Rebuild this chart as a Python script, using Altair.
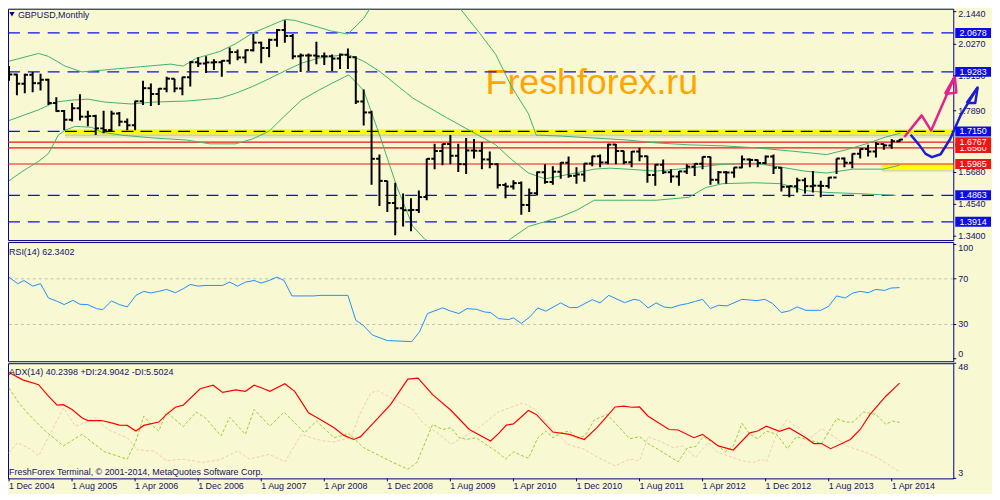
import altair as alt
import pandas as pd

FONT = "Liberation Sans"
BG = "#F8F8D2"
NAVY = "#000080"
TXT = "#141466"
BLUE = "#0C0CEB"
RED = "#F01414"
GREEN = "#3CB371"

# ---------------- data ----------------
opens = [1.9240, 1.9190, 1.8860, 1.9180, 1.8880, 1.9000, 1.8170, 1.7880, 1.7570, 1.7980,
         1.7680, 1.7700, 1.7260, 1.7200, 1.7790, 1.7500, 1.7370, 1.8230, 1.8700, 1.8490,
         1.8680, 1.9040, 1.8690, 1.9090, 1.9630, 1.9580, 1.9620, 1.9630, 1.9680, 1.9990,
         1.9800, 2.0060, 2.0330, 2.0140, 2.0430, 2.0780, 2.0570, 1.9840, 1.9870, 1.9870,
         1.9840, 1.9840, 1.9760, 1.9900, 1.9810, 1.8220, 1.7830, 1.6170, 1.5380, 1.4590,
         1.4400, 1.4330, 1.4340, 1.4800, 1.6170, 1.6450, 1.6700, 1.6280, 1.5980, 1.6470,
         1.6460, 1.6150, 1.5980, 1.5230, 1.5180, 1.5300, 1.4520, 1.4940, 1.5690, 1.5340,
         1.5710, 1.6030, 1.5560, 1.5610, 1.6000, 1.6260, 1.6040, 1.6680, 1.6450, 1.6050,
         1.6430, 1.6260, 1.5590, 1.5960, 1.5690, 1.5540, 1.5720, 1.5890, 1.5990, 1.6240,
         1.5420, 1.5690, 1.5680, 1.5860, 1.6150, 1.6130, 1.6020, 1.6250, 1.5850, 1.5170,
         1.5190, 1.5400, 1.5190, 1.5210, 1.5200, 1.5500, 1.6180, 1.6030, 1.6350, 1.6520,
         1.6430, 1.6700, 1.6650, 1.6800]
highs = [1.9491, 1.9212, 1.9212, 1.9282, 1.9212, 1.9038, 1.8377, 1.7920, 1.8168, 1.8481,
         1.7889, 1.7750, 1.7889, 1.7889, 1.7850, 1.7611, 1.8250, 1.8969, 1.8864, 1.8700,
         1.9108, 1.9038, 1.9110, 1.9665, 1.9804, 1.9839, 1.9734, 1.9700, 2.0152, 2.0083,
         2.0080, 2.0639, 2.0360, 2.0465, 2.0814, 2.1127, 2.0639, 1.9943, 1.9943, 2.0361,
         1.9978, 1.9909, 1.9943, 2.0117, 1.9839, 1.8655, 1.7889, 1.6323, 1.5383, 1.5314,
         1.4931, 1.4757, 1.5035, 1.6184, 1.6706, 1.6706, 1.7019, 1.6706, 1.6915, 1.6880,
         1.6776, 1.6428, 1.6010, 1.5314, 1.5400, 1.5360, 1.5105, 1.5720, 1.5975, 1.5905,
         1.6045, 1.6253, 1.5871, 1.6010, 1.6280, 1.6323, 1.6706, 1.6700, 1.6460, 1.6450,
         1.6567, 1.6280, 1.5975, 1.6149, 1.5801, 1.5731, 1.5975, 1.6010, 1.6253, 1.6253,
         1.5731, 1.5731, 1.5871, 1.6288, 1.6184, 1.6149, 1.6288, 1.6323, 1.5871, 1.5209,
         1.5488, 1.5488, 1.5731, 1.5383, 1.5522, 1.6184, 1.6219, 1.6358, 1.6532, 1.6671,
         1.6776, 1.6706, 1.6880, 1.6880]
lows = [1.8969, 1.8446, 1.8516, 1.8551, 1.8620, 1.8098, 1.7855, 1.7193, 1.7507, 1.7541,
        1.7333, 1.7019, 1.7089, 1.7159, 1.7333, 1.7193, 1.7193, 1.8098, 1.8064, 1.8098,
        1.8551, 1.8551, 1.8446, 1.8760, 1.9456, 1.9247, 1.9352, 1.9108, 1.9560, 1.9700,
        1.9595, 2.0013, 1.9595, 1.9804, 2.0187, 2.0326, 1.9734, 1.9282, 1.9317, 1.9560,
        1.9526, 1.9317, 1.9386, 1.9386, 1.8133, 1.7367, 1.5244, 1.4478, 1.4269, 1.3434,
        1.3747, 1.3573, 1.4234, 1.4687, 1.5801, 1.5940, 1.5975, 1.5696, 1.5627, 1.6184,
        1.5801, 1.5836, 1.5105, 1.4757, 1.5070, 1.4165, 1.4269, 1.4861, 1.5279, 1.5244,
        1.5453, 1.5488, 1.5279, 1.5348, 1.5905, 1.5871, 1.5975, 1.5975, 1.5975, 1.5871,
        1.6079, 1.5314, 1.5209, 1.5627, 1.5314, 1.5209, 1.5627, 1.5557, 1.5801, 1.5244,
        1.5279, 1.5279, 1.5488, 1.5836, 1.5871, 1.5871, 1.5975, 1.5627, 1.5000, 1.4792,
        1.4966, 1.4931, 1.4966, 1.4792, 1.5105, 1.5627, 1.5871, 1.5836, 1.6184, 1.6253,
        1.6219, 1.6497, 1.6532, 1.6776]
closes = [1.9190, 1.8860, 1.9180, 1.8880, 1.9000, 1.8170, 1.7880, 1.7570, 1.7980, 1.7680,
          1.7700, 1.7260, 1.7200, 1.7790, 1.7500, 1.7370, 1.8230, 1.8700, 1.8490, 1.8680,
          1.9040, 1.8690, 1.9090, 1.9630, 1.9580, 1.9620, 1.9630, 1.9680, 1.9990, 1.9800,
          2.0060, 2.0330, 2.0140, 2.0430, 2.0780, 2.0570, 1.9840, 1.9870, 1.9870, 1.9840,
          1.9840, 1.9760, 1.9900, 1.9810, 1.8220, 1.7830, 1.6170, 1.5380, 1.4590, 1.4400,
          1.4330, 1.4340, 1.4800, 1.6170, 1.6450, 1.6700, 1.6280, 1.5980, 1.6470, 1.6460,
          1.6150, 1.5980, 1.5230, 1.5180, 1.5300, 1.4520, 1.4940, 1.5690, 1.5340, 1.5710,
          1.6030, 1.5560, 1.5610, 1.6000, 1.6260, 1.6040, 1.6680, 1.6450, 1.6050, 1.6430,
          1.6260, 1.5590, 1.5960, 1.5690, 1.5540, 1.5720, 1.5890, 1.5990, 1.6240, 1.5420,
          1.5690, 1.5680, 1.5860, 1.6150, 1.6130, 1.6020, 1.6250, 1.5850, 1.5170, 1.5190,
          1.5400, 1.5190, 1.5210, 1.5200, 1.5500, 1.6180, 1.6030, 1.6350, 1.6520, 1.6430,
          1.6700, 1.6650, 1.6800, 1.6860]
months = list(range(len(closes)))  # 0 = Dec 2004 ... 113 = May 2014

# Bollinger bands (month index, price)
bb_up1_i = [0, 3.75, 5, 7.1, 9.25, 12.1, 16.25, 20.5, 22.1, 23.75, 26.75, 28.75, 30.9, 33, 35,
            36.25, 39.25, 40.9, 43, 45, 45.9]
bb_up1_p = [1.9665, 1.9943, 1.9838, 1.9491, 1.9282, 1.9352, 1.9456, 1.9560, 1.9491, 1.9770,
            2.0013, 2.0291, 2.0674, 2.0918, 2.1162, 2.1127, 2.0883, 2.0744, 2.0639, 2.1196, 2.1600]
bb_up2_i = [57.1, 59.6, 61.75, 63.75, 65.9, 66.9, 70, 74.25, 78.4, 82.1, 86.25, 90.5, 94.6,
            98.75, 103.75, 106.25, 108.75, 111.25, 113.1]
bb_up2_p = [2.1600, 2.0709, 1.9909, 1.8760, 1.7785, 1.7019, 1.6985, 1.6915, 1.6845, 1.6741,
            1.6671, 1.6636, 1.6567, 1.6462, 1.6323, 1.6497, 1.6706, 1.6950, 1.7089]
bb_mid_i = [0, 3.75, 5.9, 8, 10, 12.1, 15.5, 18.4, 22.5, 26.75, 28.75, 30.9, 33, 35, 37.1,
            39.25, 40.9, 43, 45, 47.1, 51.25, 55.5, 58.4, 61.75, 63.75, 65.9, 68, 70, 74.25,
            76.25, 78.4, 82.1, 86.25, 90.5, 94.6, 98, 100.9, 103.75, 107.1, 110.9, 113]
bb_mid_p = [1.7541, 1.7924, 1.8203, 1.8272, 1.8307, 1.8203, 1.8133, 1.8203, 1.8238, 1.8342,
            1.8516, 1.8760, 1.9038, 1.9317, 1.9595, 1.9770, 1.9839, 1.9909, 1.9665, 1.9282,
            1.8342, 1.7646, 1.7193, 1.6671, 1.6149, 1.5662, 1.5453, 1.5557, 1.5801, 1.5836,
            1.5801, 1.5731, 1.5836, 1.5975, 1.6010, 1.5871, 1.5731, 1.5662, 1.5801, 1.5801, 1.5940]
bb_lo1_i = [0, 1.75, 3.75, 5, 6.25, 7.1, 8.4, 10.5, 11.75, 14.25, 18.4, 22.5, 25.5, 28.75,
            30.9, 33, 35, 37.1, 39.25, 40.9, 43.1, 45, 47.1, 49.25, 51.25, 52.75, 53.3]
bb_lo1_p = [1.5383, 1.5731, 1.6079, 1.6358, 1.7019, 1.7193, 1.7333, 1.7298, 1.7124, 1.7019,
            1.6915, 1.6845, 1.6706, 1.6706, 1.6880, 1.7159, 1.7716, 1.8272, 1.8620, 1.8864,
            1.9177, 1.8620, 1.6950, 1.5140, 1.3747, 1.3295, 1.3200]
bb_lo2_i = [63.2, 63.6, 65.9, 68, 70, 72.1, 74.25, 82.1, 86.25, 88.4, 90.5, 94.6, 98, 100.9,
            103.75, 107.1, 112.5]
bb_lo2_p = [1.3200, 1.3295, 1.3747, 1.3921, 1.4095, 1.4339, 1.4687, 1.4687, 1.4792, 1.5140,
            1.5279, 1.5314, 1.5279, 1.5035, 1.4966, 1.4931, 1.4861]

# RSI(14)
rsi_i = [0, 1.1, 1.9, 3, 4, 5, 6.1, 7, 8.1, 9, 10, 11.1, 11.9, 13, 14, 15, 16.1, 17.1, 18, 19,
         20, 21.1, 22.1, 23, 24, 25, 27.1, 28, 29, 30, 31.1, 32, 33, 34, 34.9, 35.9, 38.6, 39.6,
         43, 44, 45, 46.1, 48, 51.1, 52.1, 53.1, 55, 56.1, 57.1, 58.1, 59.3, 60.3, 61.1, 62.1,
         63.4, 64, 65, 66.1, 67.1, 68.1, 70, 71.1, 72.1, 74, 75, 76.1, 78.1, 79.3, 80, 81.1,
         82.1, 83.1, 84, 85, 86.1, 87.1, 88, 89, 90, 91.1, 93, 94.9, 95.9, 96.9, 98, 99, 100,
         101.1, 103, 104, 105, 106.1, 107.1, 108, 109, 110, 111.1, 111.9, 113]
rsi_v = [71.5, 65.7, 68.5, 63.6, 65.7, 53.2, 50.3, 47.4, 51.1, 47.7, 47.4, 43.9, 43.0, 50.6,
         47.4, 45.4, 55.5, 59.0, 57.6, 59.0, 60.7, 57.8, 61.3, 65.0, 63.6, 64.2, 64.2, 67.1,
         63.6, 67.1, 68.5, 66.3, 68.5, 71.5, 68.5, 55.0, 55.0, 55.5, 55.5, 33.7, 28.9, 20.8,
         15.9, 15.0, 23.7, 39.6, 44.5, 41.6, 39.6, 43.9, 43.3, 41.0, 40.4, 35.2, 34.3, 35.8,
         30.9, 36.7, 44.5, 41.6, 48.9, 44.8, 44.8, 51.7, 48.9, 55.5, 49.1, 52.0, 51.1, 44.5,
         48.9, 45.4, 44.5, 46.8, 48.3, 50.3, 52.0, 43.9, 46.8, 46.3, 52.0, 50.9, 52.0, 48.3,
         40.4, 41.9, 45.4, 42.4, 42.4, 45.9, 55.0, 53.2, 57.6, 59.0, 57.8, 60.7, 59.8, 61.9, 62.3]
rsi_levels = [70, 30]

# ADX(14), +DI, -DI
adx_i = [0, 1.75, 3.75, 5, 6.1, 6.9, 8, 9.25, 10, 11.75, 13, 14, 15, 16.1, 17.1, 19, 20, 21.1,
         22.1, 24.25, 25.9, 27.1, 28.75, 30, 31.1, 32.1, 33.1, 35, 36.25, 38, 39.6, 41.25, 42.5,
         43.75, 44.6, 46.25, 48.4, 50.6, 51.9, 53.75, 56.1, 58.4, 61.1, 62.1, 63.1, 64, 65.9,
         66.9, 69, 71.1, 73, 74.6, 76.9, 78, 79, 80, 81.1, 83.75, 84.9, 86.9, 88, 90, 91.9, 94,
         95, 96.1, 97.75, 99, 101.1, 102.1, 103.1, 104.25, 106.75, 108, 109.25, 111.25, 113]
adx_v = [44.4, 41.5, 39.6, 35.1, 31.6, 31.8, 29.9, 26.7, 25.6, 25.6, 24.7, 23.8, 23.7, 21.5,
         23.7, 25.0, 28.0, 30.8, 31.6, 38.0, 39.4, 36.6, 37.6, 37.0, 39.4, 38.3, 37.0, 40.0,
         37.0, 28.6, 25.8, 22.8, 19.8, 18.2, 19.3, 24.7, 31.8, 41.8, 42.2, 35.7, 29.5, 22.1,
         17.6, 20.5, 23.8, 24.3, 29.5, 28.0, 21.1, 20.2, 18.2, 22.8, 30.9, 31.2, 30.8, 30.9,
         27.3, 22.1, 21.9, 18.9, 20.2, 15.7, 14.1, 20.8, 21.5, 23.4, 21.4, 22.7, 18.9, 16.6,
         16.6, 14.6, 18.2, 22.1, 28.0, 35.1, 40.2]
pdi_i = [0, 1.25, 2.5, 4.6, 6.9, 9.25, 12.1, 15, 16.1, 17.1, 18, 19, 20, 22.1, 23.75, 24.9,
         26.9, 28, 30, 31.1, 33.1, 34.9, 37.5, 39, 41.25, 43.1, 45, 48.75, 50.6, 51.75, 53.75,
         55, 56.1, 57.1, 58.1, 59.25, 62.1, 63, 64, 65.9, 67.1, 68.1, 69, 70, 71.1, 72.1, 73.1,
         74.25, 75.9, 76.9, 78.75, 80, 81.1, 83, 84.9, 86.1, 87.1, 88.1, 89.9, 90.9, 91.9, 93,
         94, 95, 96.1, 97.4, 98.75, 99.9, 101.25, 103.1, 105, 106.1, 107.1, 108.4, 110, 111.25,
         112.1, 113]
pdi_v = [38.3, 32.5, 28.0, 21.5, 15.7, 20.2, 13.4, 10.5, 17.6, 27.3, 24.1, 21.5, 28.9, 23.2,
         28.9, 26.7, 19.6, 26.9, 20.2, 29.9, 23.4, 28.9, 20.8, 25.4, 18.9, 20.5, 15.0, 9.2, 6.6,
         9.2, 24.1, 22.1, 22.8, 18.9, 18.2, 18.9, 13.0, 10.5, 13.4, 10.8, 18.9, 21.5, 18.9,
         20.8, 21.5, 18.5, 19.8, 25.8, 28.0, 24.7, 18.5, 19.3, 16.6, 13.1, 9.5, 15.0, 15.4,
         19.3, 15.9, 13.4, 15.7, 24.5, 20.2, 18.5, 21.5, 20.2, 14.6, 19.3, 18.2, 16.6, 26.3,
         25.0, 25.0, 28.9, 28.0, 24.1, 25.4, 24.9]
mdi_i = [0, 1.1, 2.75, 3.75, 5.5, 6.9, 8.4, 9.6, 10.9, 12.5, 15, 16.25, 18.4, 20, 22.1, 24.6,
         26.75, 29, 30.5, 33, 35, 37.1, 38.75, 40, 41.25, 43.4, 44.4, 45.9, 46.75, 48.1, 49.6,
         51.25, 52.5, 54.6, 56.1, 57.75, 59.25, 60.9, 62.1, 65.25, 66.75, 68.75, 70.9, 73, 74.6,
         76.9, 78.75, 80, 81.1, 82.5, 84.25, 85.5, 87.1, 88.75, 89.9, 91.25, 93, 94.4, 95.5,
         96.1, 97.5, 98.75, 100, 101.5, 103.1, 104.6, 106.25, 108.75, 110.5, 113]
mdi_v = [13.1, 17.0, 14.4, 11.8, 22.1, 30.5, 23.4, 24.7, 26.7, 22.1, 18.9, 14.1, 13.7, 9.9,
         10.5, 9.2, 10.3, 13.7, 10.5, 12.4, 9.5, 20.2, 18.5, 17.6, 17.2, 18.9, 27.3, 36.4, 37.3,
         35.1, 32.5, 29.9, 24.7, 20.2, 16.3, 19.3, 22.0, 26.0, 29.0, 32.5, 29.9, 22.8, 16.3,
         14.4, 11.4, 7.9, 10.5, 9.9, 19.3, 17.6, 15.0, 15.7, 11.2, 17.0, 13.1, 11.8, 9.9, 9.2,
         10.5, 9.5, 20.8, 26.0, 22.8, 18.2, 22.4, 19.6, 15.7, 13.1, 10.5, 5.5]

# horizontal levels
blue_levels = [2.0678, 1.9283, 1.7150, 1.4863, 1.3914]
red_levels = [1.6767, 1.6560, 1.5985]
box_under = [1.6560]
box_under_col = [RED]
box_vals = [2.0678, 1.9283, 1.7150, 1.6767, 1.5985, 1.4863, 1.3914]
box_cols = [BLUE, BLUE, BLUE, RED, RED, BLUE, BLUE]
price_top_tick = [2.1440]
price_ticks = [2.0270, 1.9150, 1.7890, 1.5680, 1.4540, 1.3400]
rsi_top_tick, rsi_mid_ticks, rsi_bottom_tick = [100], [70, 30], [0]
adx_top_tick, adx_bottom_tick = [48], [3]

# highlighted bands (start month, end month, low price, high price)
X0, X1 = -0.13, 119.81
band_i0 = [7.1, 110.75]
band_i1 = [X1, X1]
band_lo = [1.7050, 1.5790]
band_hi = [1.7225, 1.5970]
shadow_i0 = [7.1, 7.1, 110.75, 110.75]
shadow_lo = [1.6985, 1.6915, 1.5740, 1.5690]
shadow_hi = [1.7050, 1.6985, 1.5790, 1.5740]
shadow_op = [0.30, 0.12, 0.30, 0.12]

# hand-drawn arrows (month index, price)
pink_body_i = [113.6, 115.8, 117.0, 120.0]
pink_body_p = [1.6950, 1.7726, 1.7183, 1.9118]
pink_head_i = [118.75, 120.0, 120.2, 118.75]
pink_head_p = [1.8492, 1.9118, 1.8540, 1.8492]
blue_body_i = [114.4, 115.5, 116.3, 117.1, 118.2, 119.4, 120.7, 122.9]
blue_body_p = [1.7030, 1.6661, 1.6347, 1.6229, 1.6333, 1.6870, 1.7705, 1.8725]
blue_head_i = [121.5, 122.9, 122.6, 121.5]
blue_head_p = [1.8168, 1.8725, 1.8170, 1.8168]

date_ticks = [0, 8, 16, 24, 32, 40, 48, 56, 64, 72, 80, 88, 96, 104, 112]
date_labels = ["1 Dec 2004", "1 Aug 2005", "1 Apr 2006", "1 Dec 2006", "1 Aug 2007",
               "1 Apr 2008", "1 Dec 2008", "1 Aug 2009", "1 Apr 2010", "1 Dec 2010",
               "1 Aug 2011", "1 Apr 2012", "1 Dec 2012", "1 Aug 2013", "1 Apr 2014"]

title_text = "GBPUSD,Monthly"
rsi_text = "RSI(14) 62.3402"
adx_text = "ADX(14) 40.2398 +DI:24.9042 -DI:5.5024"
footer_text = "FreshForex Terminal, \u00a9 2001-2014, MetaQuotes Software Corp."
watermark = "Freshforex.ru"

# ---------------- scales / helpers ----------------
W = 952
H_MAIN, H_RSI, H_ADX = 233, 120, 116
XS = alt.Scale(domain=[X0, X1], nice=False, zero=False)
YP = alt.Scale(domain=[1.3261, 2.1544], nice=False, zero=False)
YR = alt.Scale(domain=[-2.17, 102.17], nice=False, zero=False)
YA = alt.Scale(domain=[3, 48], nice=False, zero=False)


def X(f="i"):
    return alt.X(f"{f}:Q", scale=XS, axis=None, title=None)


def Yq(f, scale):
    return alt.Y(f"{f}:Q", scale=scale, axis=None, title=None)


def YPe(f):
    return Yq(f, YP)


def line_df(pairs):
    rows = []
    for key, xs, ys in pairs:
        for k, (a, b) in enumerate(zip(xs, ys)):
            rows.append({"key": key, "ord": k, "i": a, "p": b})
    return pd.DataFrame(rows)


def text_layer(txt, x, y, **kw):
    return alt.Chart(pd.DataFrame({"t": [txt]})).mark_text(
        font=FONT, align="left", baseline="middle", **kw
    ).encode(x=alt.value(x), y=alt.value(y), text="t:N")


def right_ticks(vals, scale, fmt, baseline="middle", dy=0):
    df = pd.DataFrame({"v": vals})
    tick = alt.Chart(df).mark_rule(color=NAVY, strokeWidth=1).encode(
        x=alt.value(W), x2=alt.value(W + 3), y=Yq("v", scale))
    lab = alt.Chart(df).mark_text(font=FONT, fontSize=9, color=TXT, align="left",
                                  baseline=baseline, dy=dy).encode(
        x=alt.value(W + 5), y=Yq("v", scale), text=alt.Text("v:Q", format=fmt))
    return [tick, lab]


bars = pd.DataFrame({"i": months, "o": opens, "h": highs, "l": lows, "c": closes})
bb = line_df([("u1", bb_up1_i, bb_up1_p), ("u2", bb_up2_i, bb_up2_p),
              ("m", bb_mid_i, bb_mid_p), ("l1", bb_lo1_i, bb_lo1_p),
              ("l2", bb_lo2_i, bb_lo2_p)])
pink = line_df([("b", pink_body_i, pink_body_p), ("h", pink_head_i, pink_head_p)])
bluearr = line_df([("b", blue_body_i, blue_body_p), ("h", blue_head_i, blue_head_p)])
bands = pd.DataFrame({"i0": band_i0, "i1": band_i1, "lo": band_lo, "hi": band_hi})
shadows = pd.DataFrame({"i0": shadow_i0, "i1": [X1] * 4, "lo": shadow_lo,
                        "hi": shadow_hi, "op": shadow_op})
black_seg = pd.DataFrame({"i0": [band_i0[0]], "i1": [X1], "p": [1.7150]})

# ---------------- main panel ----------------
wm = alt.Chart(pd.DataFrame({"t": [watermark]})).mark_text(
    font=FONT, fontSize=36, color="#FFA500", align="left", baseline="alphabetic"
).encode(x=alt.value(481), y=alt.value(86), text="t:N")

blue_rules = alt.Chart(pd.DataFrame({"p": blue_levels})).mark_rule(
    color=BLUE, strokeWidth=1.2, strokeDash=[12, 8]).encode(y=YPe("p"))
shadow_rects = alt.Chart(shadows).mark_rect(color="#707070").encode(
    x=X("i0"), x2="i1:Q", y=YPe("lo"), y2="hi:Q", opacity=alt.Opacity("op:Q", scale=None))
yellow = alt.Chart(bands).mark_rect(color="#FFFF00").encode(
    x=X("i0"), x2="i1:Q", y=YPe("lo"), y2="hi:Q")
red_rules = alt.Chart(pd.DataFrame({"p": red_levels})).mark_rule(
    color=RED, strokeWidth=1.2).encode(y=YPe("p"))
black_dash = alt.Chart(black_seg).mark_rule(
    color="black", strokeWidth=1.3, strokeDash=[12, 7]).encode(x=X("i0"), x2="i1:Q", y=YPe("p"))
bb_lines = alt.Chart(bb).mark_line(color=GREEN, strokeWidth=1, clip=True).encode(
    x=X("i"), y=YPe("p"), detail="key:N", order="ord:Q")

bar_v = alt.Chart(bars).mark_rule(color="black", strokeWidth=2, clip=True).encode(
    x=X("i"), y=YPe("l"), y2="h:Q")
bar_o = alt.Chart(bars).transform_calculate(ia="datum.i - 0.42").mark_rule(
    color="black", strokeWidth=2, clip=True).encode(x=X("ia"), x2="i:Q", y=YPe("o"))
bar_c = alt.Chart(bars).transform_calculate(ib="datum.i + 0.42").mark_rule(
    color="black", strokeWidth=2).encode(x=X("i"), x2="ib:Q", y=YPe("c"))

pink_l = alt.Chart(pink).mark_line(color="#E4228A", strokeWidth=2.5, strokeJoin="round").encode(
    x=X("i"), y=YPe("p"), detail="key:N", order="ord:Q")
blue_l = alt.Chart(bluearr).mark_line(color="#1C1CD8", strokeWidth=2.5, strokeJoin="round").encode(
    x=X("i"), y=YPe("p"), detail="key:N", order="ord:Q")


def box_layers(vals, cols):
    df = pd.DataFrame({"p": vals, "col": cols})
    rect = alt.Chart(df).mark_rect(yOffset=-5, y2Offset=5).encode(
        x=alt.value(954), x2=alt.value(990), y=YPe("p"), y2="p:Q",
        color=alt.Color("col:N", scale=None))
    txt = alt.Chart(df).mark_text(font=FONT, fontSize=9, color="white", align="center",
                                  baseline="middle").encode(
        x=alt.value(972), y=YPe("p"), text=alt.Text("p:Q", format=".4f"))
    return [rect, txt]


tri = alt.Chart(pd.DataFrame({"a": [0]})).mark_point(
    shape="triangle-down", filled=True, size=28, color=NAVY, opacity=1).encode(
    x=alt.value(4), y=alt.value(5.5))
title_l = text_layer(title_text, 10, 6, fontSize=9, color=TXT)

main = alt.layer(
    wm, blue_rules, shadow_rects, yellow, red_rules, black_dash, bb_lines,
    bar_v, bar_o, bar_c,
    *right_ticks(price_top_tick, YP, ".4f", dy=2.5),
    *right_ticks(price_ticks, YP, ".4f"),
    pink_l, blue_l,
    *box_layers(box_under, box_under_col), *box_layers(box_vals, box_cols),
    tri, title_l,
).properties(width=W, height=H_MAIN)

# ---------------- RSI panel ----------------
rsi_df = pd.DataFrame({"i": rsi_i, "v": rsi_v})
rsi_lv = alt.Chart(pd.DataFrame({"v": rsi_levels})).mark_rule(
    color="#C0C0C0", strokeDash=[3, 3], strokeWidth=1).encode(y=Yq("v", YR))
rsi_line = alt.Chart(rsi_df).mark_line(color="#1E90FF", strokeWidth=1, clip=True).encode(
    x=X("i"), y=Yq("v", YR))
rsi = alt.layer(
    rsi_lv, rsi_line,
    *right_ticks(rsi_top_tick, YR, "d", baseline="top"),
    *right_ticks(rsi_mid_ticks, YR, "d"),
    *right_ticks(rsi_bottom_tick, YR, "d", baseline="bottom"),
    text_layer(rsi_text, 1, 10, fontSize=9, color=TXT),
).properties(width=W, height=H_RSI)

# ---------------- ADX panel ----------------
dates = pd.DataFrame({"i": date_ticks, "lab": date_labels})
mdi_l = alt.Chart(pd.DataFrame({"i": mdi_i, "v": mdi_v})).mark_line(
    color="#F6CCA8", strokeWidth=1, strokeDash=[3, 2], clip=True).encode(x=X("i"), y=Yq("v", YA))
pdi_l = alt.Chart(pd.DataFrame({"i": pdi_i, "v": pdi_v})).mark_line(
    color="#9ACD32", strokeWidth=1, strokeDash=[3, 2], clip=True).encode(x=X("i"), y=Yq("v", YA))
adx_l = alt.Chart(pd.DataFrame({"i": adx_i, "v": adx_v})).mark_line(
    color="#FF0000", strokeWidth=1.2, clip=True).encode(x=X("i"), y=Yq("v", YA))
date_tick = alt.Chart(dates).mark_rule(color=NAVY, strokeWidth=1).encode(
    x=X("i"), y=alt.value(H_ADX), y2=alt.value(H_ADX + 3))
date_lab = alt.Chart(dates).mark_text(font=FONT, fontSize=9, color=TXT, align="left",
                                      baseline="top").encode(
    x=X("i"), y=alt.value(H_ADX + 4), text="lab:N")
adx = alt.layer(
    mdi_l, pdi_l, adx_l, date_tick, date_lab,
    *right_ticks(adx_top_tick, YA, "d", baseline="top"),
    *right_ticks(adx_bottom_tick, YA, "d", baseline="bottom"),
    text_layer(adx_text, 1, 8.5, fontSize=9, color=TXT),
    text_layer(footer_text, 1, 109.5, fontSize=9, color=TXT),
).properties(width=W, height=H_ADX)

chart = alt.vconcat(main, rsi, adx, spacing=2, bounds="flush").properties(
    padding={"left": -2, "top": -2, "right": 0, "bottom": 0}, background=BG
).configure_view(
    stroke=NAVY, strokeWidth=1
)

chart.save("out.html", embed_options={"renderer": "svg", "actions": False})
